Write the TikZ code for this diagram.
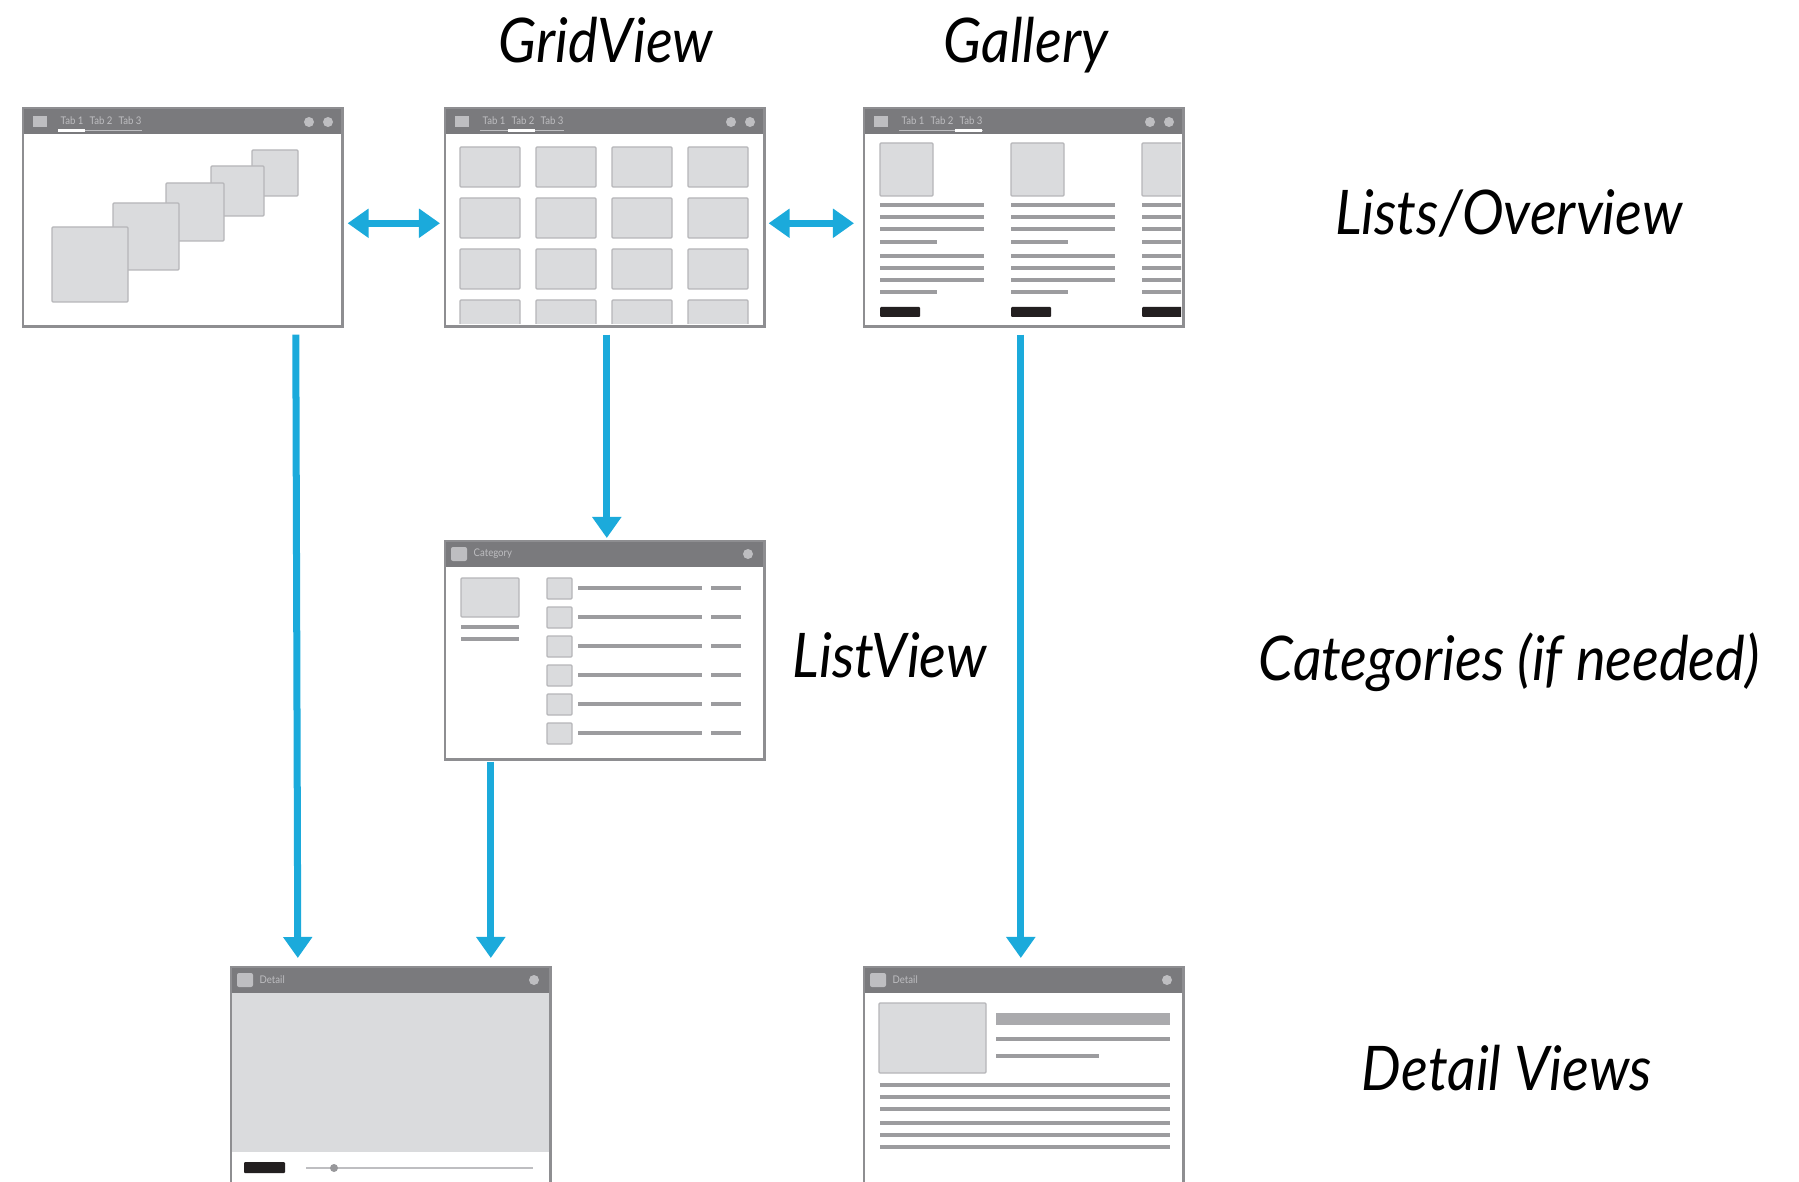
\documentclass[tikz,border=0pt]{standalone}
\usepackage{fontspec}
\setmainfont{Lato}[FakeStretch=0.91]
\usetikzlibrary{arrows.meta,calc,shadows}

\definecolor{flowblue}{RGB}{27,170,219}
\definecolor{barcol}{RGB}{122,122,125}
\definecolor{framecol}{RGB}{142,142,145}
\definecolor{tilecol}{RGB}{218,219,221}
\definecolor{tileedge}{RGB}{182,182,185}
\definecolor{linecol}{RGB}{156,156,159}
\definecolor{headcol}{RGB}{170,170,173}
\definecolor{knobcol}{RGB}{190,190,193}
\definecolor{btncol}{RGB}{35,31,32}

\tikzset{
  window/.style={fill=white, minimum width=3.18cm, minimum height=2.17cm,
    inner sep=0pt, anchor=north west,
    drop shadow={shadow xshift=0cm, shadow yshift=-0.025cm, opacity=0.25}},
  frame/.style={draw=framecol, line width=0.022cm},
  tile/.style={fill=tilecol, draw=tileedge, line width=0.012cm, rounded corners=0.01cm},
  textline/.style={draw=linecol, line width=0.045cm},
  tabtext/.style={text=knobcol, font=\fontsize{3}{3}\selectfont, inner sep=0pt, anchor=west},
  flow/.style={draw=flowblue, line width=0.07cm, -{Triangle[width=0.28cm,length=0.21cm]}},
  twoway/.style={flow, {Triangle[width=0.28cm,length=0.21cm]}-{Triangle[width=0.28cm,length=0.21cm]}},
  levelname/.style={font=\fontsize{17.5}{20}\selectfont\itshape, inner sep=0pt, anchor=base},
}

% title bar with tabs: #1 = active tab (1..3)
\newcommand\tabbar[1]{%
  \fill[barcol] (0,0) rectangle (318,26);
  \fill[knobcol] (10,8) rectangle (24,19);
  \foreach \t/\tx in {1/37,2/66,3/95}
    \node[tabtext] at (\tx,13) {Tab \t};
  \draw[knobcol, line width=0.01cm] (35,23) -- (119,23);
  \draw[white, line width=0.03cm] ({35+28*(#1-1)},23) -- +(27,0);
  \foreach \cx in {286,305}
    \fill[knobcol] (\cx,14) circle (0.05cm);
}
% title bar with a caption and one button
\newcommand\namebar[1]{%
  \fill[barcol] (0,0) rectangle (318,26);
  \fill[knobcol, rounded corners=0.02cm] (6,6) rectangle (22,20);
  \node[tabtext] at (28,13) {#1};
  \fill[knobcol] (303,13) circle (0.05cm);
}

\begin{document}
\begin{tikzpicture}[x=0.01cm, y=-0.01cm]
  \useasboundingbox (0,0) rectangle (1799,1182);

  % Windows
  \node[window] (coverflow)   at (23,108)  {};
  \node[window] (grid)        at (445,108) {};
  \node[window] (gallery)     at (864,108) {};
  \node[window] (listing)     at (445,541) {};
  \node[window] (mediadetail) at (231,967) {};
  \node[window] (textdetail)  at (864,967) {};

  % Cover flow
  \begin{scope}[shift={(coverflow.north west)}]
    \tabbar{1}
    \foreach \a/\b/\c/\d in {229/42/275/88, 188/58/241/108, 143/75/201/133,
                             90/95/156/162, 29/119/105/194}
      \draw[tile] (\a,\b) rectangle (\c,\d);
  \end{scope}

  % Grid
  \begin{scope}[shift={(grid.north west)}]
    \tabbar{2}
    \begin{scope}
      \clip (0,26) rectangle (318,216);
      \foreach \i in {0,...,3}
        \foreach \j in {0,...,3}
          \draw[tile] ({15+76*\i},{39+51*\j}) rectangle +(60,40);
    \end{scope}
  \end{scope}

  % Gallery
  \begin{scope}[shift={(gallery.north west)}]
    \tabbar{3}
    \begin{scope}
      \clip (0,26) rectangle (317,216);
      \foreach \col in {16,147,278}{
        \draw[tile] (\col,35) rectangle +(53,53);
        \foreach \y/\w in {97/104,109/104,121/104,134/57,148/104,160/104,172/104,184/57}
          \draw[textline] (\col,\y) -- +(\w,0);
        \fill[btncol, rounded corners=0.01cm] (\col,199) rectangle +(40,10);
      }
    \end{scope}
  \end{scope}

  % List
  \begin{scope}[shift={(listing.north west)}]
    \namebar{Category}
    \draw[tile] (16,37) rectangle (74,76);
    \draw[textline] (16,86) -- (74,86) (16,98) -- (74,98);
    \foreach \k in {0,...,5}{
      \draw[tile] (102,{37+29*\k}) rectangle +(25,21);
      \draw[textline] (133,{47+29*\k}) -- +(124,0);
      \draw[textline] (266,{47+29*\k}) -- +(30,0);
    }
  \end{scope}

  % Media detail
  \begin{scope}[shift={(mediadetail.north west)}]
    \namebar{Detail}
    \fill[tilecol] (0,26) rectangle (318,185);
    \fill[btncol, rounded corners=0.01cm] (13,195) rectangle (54,206);
    \draw[knobcol, line width=0.015cm] (75,201) -- (302,201);
    \fill[knobcol!80!black] (103,201) circle (0.04cm);
  \end{scope}

  % Text detail
  \begin{scope}[shift={(textdetail.north west)}]
    \namebar{Detail}
    \draw[tile] (15,36) rectangle (122,106);
    \fill[headcol] (132,46) rectangle (306,58);
    \draw[textline] (132,72) -- (306,72) (132,89) -- (235,89);
    \foreach \y in {118,130,142,156,168,180}
      \draw[textline] (16,\y) -- (306,\y);
  \end{scope}

  % Frames on top
  \foreach \w in {coverflow,grid,gallery,listing,mediadetail,textdetail}
    \draw[frame] (\w.south west) rectangle (\w.north east);

  % Navigation arrows
  \draw[twoway] ($(coverflow.east)+(5,6)$) -- ($(grid.west)+(-5,6)$);
  \draw[twoway] ($(grid.east)+(4,6)$) -- ($(gallery.west)+(-10,6)$);
  \draw[flow] ($(grid.south)+(2,8)$) -- ($(listing.north)+(2,-3)$);
  \draw[flow] ($(coverflow.south)+(113,8)$) -- ($(mediadetail.north)+(-93,-9)$);
  \draw[flow] ($(listing.south)+(-114,2)$) -- ($(mediadetail.north)+(100,-9)$);
  \draw[flow] ($(gallery.south)+(-3,8)$) -- ($(textdetail.north)+(-3,-9)$);

  % Labels
  \node[levelname] (gridname)    at (606,63)    {GridView};
  \node[levelname] (galleryname) at (1026,63)   {Gallery};
  \node[levelname] (listname)    at (890,677)   {ListView};
  \node[levelname] (lists)       at (1509,235)  {Lists/Overview};
  \node[levelname] (categories)  at (1509,680)  {Categories (if needed)};
  \node[levelname] (details)     at (1507,1090) {Detail Views};
\end{tikzpicture}
\end{document}
